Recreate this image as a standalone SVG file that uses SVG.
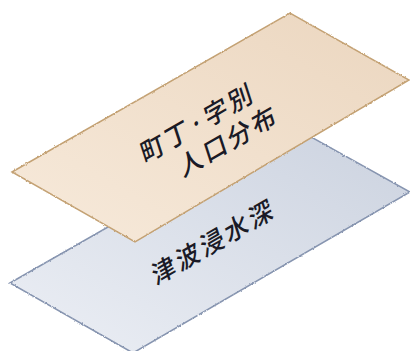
<svg xmlns="http://www.w3.org/2000/svg" width="410" height="351" viewBox="0 0 410 351">
  <style>
    .lbl { font-family: "Noto Sans CJK JP", "Noto Sans CJK SC", sans-serif; font-size: 25px; font-weight: 500; fill: #1a1a26; letter-spacing: 3px; text-anchor: middle; dominant-baseline: central; }
  </style>
  <defs>
    <linearGradient id="gTop" x1="0" y1="1" x2="1" y2="0">
      <stop offset="0" stop-color="#F7EADB"/>
      <stop offset="1" stop-color="#EBD6BF"/>
    </linearGradient>
    <linearGradient id="gBot" x1="0" y1="1" x2="1" y2="0">
      <stop offset="0" stop-color="#ECEFF5"/>
      <stop offset="1" stop-color="#CBD2DF"/>
    </linearGradient>
    <filter id="rough" x="-5%" y="-5%" width="110%" height="110%">
      <feTurbulence type="fractalNoise" baseFrequency="0.9" numOctaves="2" seed="3" result="n"/>
      <feDisplacementMap in="SourceGraphic" in2="n" scale="2.2" xChannelSelector="R" yChannelSelector="G"/>
    </filter>
  </defs>
  <rect width="410" height="351" fill="#FFFFFF"/>
  <g id="layer-tsunami">
    <polygon points="10,283 288,124 410,192 133,353" fill="url(#gBot)"/>
    <polygon points="10,283 288,124 410,192 133,353" fill="none" stroke="#8795B0" stroke-width="1.5" filter="url(#rough)"/>
    <text class="lbl" transform="translate(213,240) rotate(-30) skewX(-12)">津波浸水深</text>
  </g>
  <g id="layer-population">
    <polygon points="12,172 290,13 409,80 135,242" fill="url(#gTop)"/>
    <polygon points="12,172 290,13 409,80 135,242" fill="none" stroke="#C4A274" stroke-width="1.5" filter="url(#rough)"/>
    <text class="lbl" transform="translate(197,121) rotate(-30) skewX(-12)">町丁·字別</text>
    <text class="lbl" transform="translate(228,139) rotate(-30) skewX(-12)">人口分布</text>
  </g>
  <g id="connectors"/>
</svg>
